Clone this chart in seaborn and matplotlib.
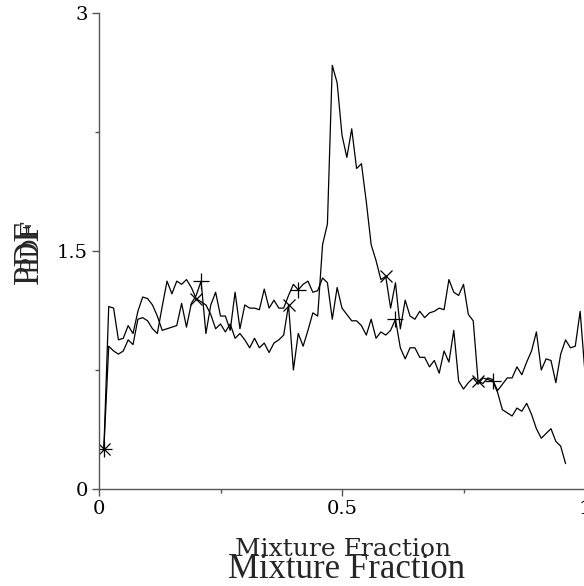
import numpy as np
import pandas as pd
import matplotlib
matplotlib.use("Agg")
import matplotlib.pyplot as plt
from matplotlib.ticker import FixedLocator
import seaborn as sns

# ---------------- data ----------------
mixture_fraction = [
    0.01, 0.02, 0.03, 0.04, 0.05, 0.06, 0.07, 0.08, 0.09, 0.10,
    0.11, 0.12, 0.13, 0.14, 0.15, 0.16, 0.17, 0.18, 0.19, 0.20,
    0.21, 0.22, 0.23, 0.24, 0.25, 0.26, 0.27, 0.28, 0.29, 0.30,
    0.31, 0.32, 0.33, 0.34, 0.35, 0.36, 0.37, 0.38, 0.39, 0.40,
    0.41, 0.42, 0.43, 0.44, 0.45, 0.46, 0.47, 0.48, 0.49, 0.50,
    0.51, 0.52, 0.53, 0.54, 0.55, 0.56, 0.57, 0.58, 0.59, 0.60,
    0.61, 0.62, 0.63, 0.64, 0.65, 0.66, 0.67, 0.68, 0.69, 0.70,
    0.71, 0.72, 0.73, 0.74, 0.75, 0.76, 0.77, 0.78, 0.79, 0.80,
    0.81, 0.82, 0.83, 0.84, 0.85, 0.86, 0.87, 0.88, 0.89, 0.90,
    0.91, 0.92, 0.93, 0.94, 0.95, 0.96, 0.97, 0.98, 0.99, 1.00,
]

# series drawn with "x" markers (has the large peak near 0.48)
pdf_x = [
    0.25, 0.90, 0.87, 0.85, 0.87, 0.94, 0.91, 1.07, 1.08, 1.06,
    1.01, 0.98, 1.15, 1.31, 1.23, 1.31, 1.29, 1.32, 1.27, 1.20,
    1.18, 1.16, 1.10, 1.01, 1.04, 0.99, 1.04, 0.95, 0.98, 0.94,
    0.89, 0.95, 0.89, 0.92, 0.86, 0.92, 0.94, 0.97, 1.16, 0.75,
    0.98, 0.90, 1.00, 1.11, 1.09, 1.54, 1.67, 2.67, 2.56, 2.23,
    2.09, 2.27, 2.02, 2.05, 1.81, 1.54, 1.44, 1.32, 1.34, 1.14,
    1.30, 1.01, 1.19, 1.09, 1.07, 1.12, 1.08, 1.11, 1.12, 1.14,
    1.13, 1.32, 1.24, 1.22, 1.29, 1.10, 1.06, 0.68, 0.665, 0.70,
    0.69, 0.62, 0.66, 0.70, 0.70, 0.77, 0.72, 0.80, 0.87, 0.99,
    0.75, 0.82, 0.81, 0.67, 0.85, 0.94, 0.89, 0.90, 1.12, 0.73,
]

# series drawn with "+" markers (decays towards 1)
pdf_plus = [
    0.25, 1.15, 1.14, 0.94, 0.95, 1.03, 0.98, 1.12, 1.21, 1.20,
    1.16, 1.09, 1.00, 1.01, 1.02, 1.03, 1.17, 1.02, 1.17, 1.22,
    1.31, 0.98, 1.16, 1.24, 1.09, 1.09, 1.00, 1.24, 1.01, 1.16,
    1.14, 1.14, 1.13, 1.26, 1.14, 1.19, 1.14, 1.14, 1.22, 1.29,
    1.255, 1.29, 1.31, 1.24, 1.25, 1.33, 1.30, 1.07, 1.27, 1.14,
    1.10, 1.06, 1.06, 1.03, 0.97, 1.07, 0.95, 0.99, 0.97, 1.00,
    1.07, 0.89, 0.82, 0.89, 0.89, 0.83, 0.83, 0.77, 0.81, 0.73,
    0.87, 0.80, 1.00, 0.68, 0.63, 0.67, 0.70, 0.66, 0.70, 0.69,
    0.68, 0.61, 0.50, 0.48, 0.46, 0.51, 0.49, 0.54, 0.47, 0.38,
    0.32, 0.35, 0.38, 0.30, 0.27, 0.16,
]

marks_x = [0, 19, 38, 58, 77]
marks_plus = [0, 20, 40, 60, 80]

x_ticks = [0, 0.5, 1]
x_tick_labels = ["0", "0.5", "1"]
x_minor = [0.25, 0.75]
y_ticks = [0, 1.5, 3]
y_tick_labels = ["0", "1.5", "3"]
y_minor = [0.75, 2.25]

x_label = "Mixture Fraction"
y_label = "PDF"

# ---------------- figure ----------------
sns.set_style("ticks")
plt.rcParams["font.family"] = ["DejaVu Serif"]

W, H = 584, 586
fig = plt.figure(figsize=(W / 100, H / 100), dpi=100)
ax = fig.add_axes([99 / W, (H - 489) / H, 486 / W, 476 / H])

sns.lineplot(x=mixture_fraction, y=pdf_x, ax=ax, color="black", linewidth=0.9,
             marker="x", markevery=marks_x, markersize=9, markeredgewidth=0.9,
             markeredgecolor="black", estimator=None, sort=False)
sns.lineplot(x=mixture_fraction[:len(pdf_plus)], y=pdf_plus, ax=ax, color="black",
             linewidth=0.9, marker="+", markevery=marks_plus, markersize=12,
             markeredgewidth=0.9, markeredgecolor="black", estimator=None, sort=False)

ax.set_xlim(0, 1)
ax.set_ylim(0, 3)
ax.set_xticks(x_ticks)
ax.set_xticklabels(x_tick_labels)
ax.set_yticks(y_ticks)
ax.set_yticklabels(y_tick_labels)
ax.xaxis.set_minor_locator(FixedLocator(x_minor))
ax.yaxis.set_minor_locator(FixedLocator(y_minor))
ax.tick_params(axis="both", which="major", direction="out", length=5, width=1,
               color="#555555", labelsize=14, pad=3, labelcolor="black")
ax.tick_params(axis="both", which="minor", direction="out", length=3, width=1,
               color="#555555")
ax.set_xlabel("")
ax.set_ylabel("")
sns.despine(ax=ax)
for s in ("left", "bottom"):
    ax.spines[s].set_color("#555555")
    ax.spines[s].set_linewidth(1.0)

# doubled axis titles, as in the reference
fig.text(343 / W, 1 - 556 / H, x_label, ha="center", va="baseline",
         fontsize=18, family="DejaVu Serif")
fig.text(346 / W, 1 - 578 / H, x_label, ha="center", va="baseline",
         fontsize=25, family="Liberation Serif")
fig.text(29 / W, 1 - 252 / H, y_label, ha="center", va="center", rotation=90,
         fontsize=25, family="Liberation Serif")
fig.text(31 / W, 1 - 246 / H, y_label, ha="center", va="center", rotation=90,
         fontsize=18, family="DejaVu Serif")

fig.savefig("out.png", dpi=100)
